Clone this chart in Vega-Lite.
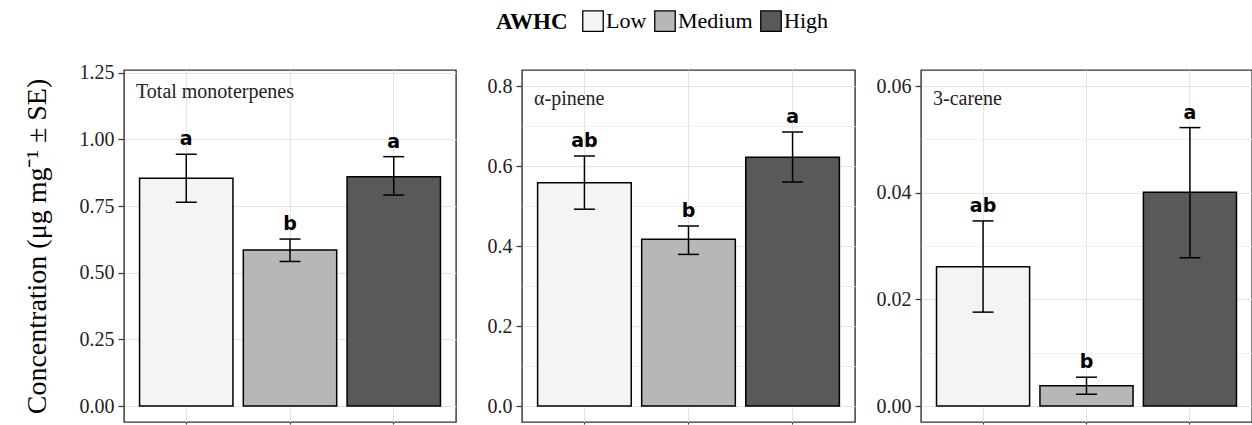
{
  "$schema": "https://vega.github.io/schema/vega-lite/v6.json",
  "padding": {"left": 22, "top": 10, "right": 0, "bottom": 0},
  "background": "white",
  "data": {"values": [
    {"compound": "Total monoterpenes", "awhc": "Low", "mean": 0.854, "lower": 0.764, "upper": 0.944, "letter": "a"},
    {"compound": "Total monoterpenes", "awhc": "Medium", "mean": 0.585, "lower": 0.542, "upper": 0.626, "letter": "b"},
    {"compound": "Total monoterpenes", "awhc": "High", "mean": 0.860, "lower": 0.791, "upper": 0.935, "letter": "a"},
    {"compound": "α-pinene", "awhc": "Low", "mean": 0.558, "lower": 0.492, "upper": 0.625, "letter": "ab"},
    {"compound": "α-pinene", "awhc": "Medium", "mean": 0.417, "lower": 0.379, "upper": 0.450, "letter": "b"},
    {"compound": "α-pinene", "awhc": "High", "mean": 0.622, "lower": 0.560, "upper": 0.685, "letter": "a"},
    {"compound": "3-carene", "awhc": "Low", "mean": 0.0261, "lower": 0.0176, "upper": 0.0347, "letter": "ab"},
    {"compound": "3-carene", "awhc": "Medium", "mean": 0.0038, "lower": 0.0022, "upper": 0.0054, "letter": "b"},
    {"compound": "3-carene", "awhc": "High", "mean": 0.0401, "lower": 0.0278, "upper": 0.0522, "letter": "a"}
  ]},
  "config": {
    "view": {"stroke": "#333333", "strokeWidth": 1.4},
    "font": "Liberation Serif",
    "axis": {
      "labelFont": "Liberation Serif",
      "labelFontSize": 20,
      "labelColor": "#222222",
      "labelPadding": 4,
      "titleFont": "Liberation Serif",
      "titleFontWeight": "normal",
      "titleColor": "black",
      "domain": false,
      "tickColor": "#333333",
      "tickWidth": 1.2,
      "gridColor": "#e4e4e4",
      "gridWidth": 1
    },
    "title": {"font": "Liberation Serif", "fontSize": 20, "fontWeight": "normal", "color": "#222222", "anchor": "start", "frame": "group", "offset": -39, "dx": 12, "baseline": "alphabetic"}
  },
  "spacing": 13,
  "hconcat": [
    {
      "width": 332, "height": 352,
      "title": {"text": "Total monoterpenes"},
      "transform": [{"filter": "datum.compound === 'Total monoterpenes'"}],
      "encoding": {
        "x": {"field": "awhc", "type": "nominal", "sort": ["Low", "Medium", "High"], "scale": {"paddingInner": 0.1, "paddingOuter": 0.15},
          "axis": {"title": null, "labels": false, "ticks": true, "tickSize": 2, "grid": true, "bandPosition": 0.5}}
      },
      "layer": [
        {"mark": {"type": "bar", "stroke": "black", "strokeWidth": 1.5},
         "encoding": {
           "y": {"field": "mean", "type": "quantitative", "title": "Concentration (μg mg⁻¹ ± SE)", "scale": {"domain": [-0.06, 1.26], "nice": false, "zero": false},
             "axis": {"title": "Concentration (μg mg⁻¹ ± SE)", "titleFontSize": 28, "titlePadding": 22, "minExtent": 51, "maxExtent": 51,
               "values": [0, 0.125, 0.25, 0.375, 0.5, 0.625, 0.75, 0.875, 1, 1.125, 1.25], "tickSize": 6,
               "labelExpr": "abs(datum.value*4 - round(datum.value*4)) < 1e-6 ? format(datum.value, '.2f') : ''",
               "tickOpacity": {"condition": {"test": "abs(datum.value*4 - round(datum.value*4)) < 1e-6", "value": 1}, "value": 0},
               "gridColor": {"condition": {"test": "abs(datum.value*4 - round(datum.value*4)) < 1e-6", "value": "#e4e4e4"}, "value": "#efefef"}}},
           "y2": {"datum": 0},
           "color": {"field": "awhc", "type": "nominal", "sort": ["Low", "Medium", "High"],
             "scale": {"domain": ["Low", "Medium", "High"], "range": ["#f4f4f4", "#b7b7b7", "#595959"]},
             "legend": {"orient": "none", "legendX": 372, "legendY": -60, "direction": "horizontal", "title": "AWHC", "titleOrient": "left",
               "titleFont": "Liberation Serif", "titleFontSize": 23, "titleFontWeight": "bold", "titleColor": "black", "titlePadding": 14,
               "labelFont": "Liberation Serif", "labelFontSize": 22, "labelColor": "black", "labelOffset": 2, "columnPadding": 5,
               "symbolType": "square", "symbolSize": 420, "symbolStrokeColor": "#222222", "symbolStrokeWidth": 1.3, "symbolOpacity": 1}}
         }},
        {"mark": {"type": "rule", "strokeWidth": 1.5, "color": "black"},
         "encoding": {"y": {"field": "lower", "type": "quantitative", "title": "Concentration (μg mg⁻¹ ± SE)"}, "y2": {"field": "upper"}}},
        {"mark": {"type": "tick", "size": 21, "thickness": 1.5, "color": "black", "opacity": 1},
         "encoding": {"y": {"field": "lower", "type": "quantitative", "title": "Concentration (μg mg⁻¹ ± SE)"}}},
        {"mark": {"type": "tick", "size": 21, "thickness": 1.5, "color": "black", "opacity": 1},
         "encoding": {"y": {"field": "upper", "type": "quantitative", "title": "Concentration (μg mg⁻¹ ± SE)"}}},
        {"mark": {"type": "text", "font": "DejaVu Sans", "fontWeight": "bold", "fontSize": 19, "dy": -9, "baseline": "alphabetic", "color": "black"},
         "encoding": {"y": {"field": "upper", "type": "quantitative", "title": "Concentration (μg mg⁻¹ ± SE)"}, "text": {"field": "letter"}}}
      ]
    },
    {
      "width": 333, "height": 352,
      "title": {"text": "α-pinene"},
      "transform": [{"filter": "datum.compound === 'α-pinene'"}],
      "encoding": {
        "x": {"field": "awhc", "type": "nominal", "sort": ["Low", "Medium", "High"], "scale": {"paddingInner": 0.1, "paddingOuter": 0.15},
          "axis": {"title": null, "labels": false, "ticks": true, "tickSize": 2, "grid": true, "bandPosition": 0.5}}
      },
      "layer": [
        {"mark": {"type": "bar", "stroke": "black", "strokeWidth": 1.5},
         "encoding": {
           "y": {"field": "mean", "type": "quantitative", "scale": {"domain": [-0.04, 0.84], "nice": false, "zero": false},
             "axis": {"title": null, "minExtent": 51, "maxExtent": 51,
               "values": [0, 0.1, 0.2, 0.3, 0.4, 0.5, 0.6, 0.7, 0.8], "tickSize": 6,
               "labelExpr": "abs(datum.value*5 - round(datum.value*5)) < 1e-6 ? format(datum.value, '.1f') : ''",
               "tickOpacity": {"condition": {"test": "abs(datum.value*5 - round(datum.value*5)) < 1e-6", "value": 1}, "value": 0},
               "gridColor": {"condition": {"test": "abs(datum.value*5 - round(datum.value*5)) < 1e-6", "value": "#e4e4e4"}, "value": "#efefef"}}},
           "y2": {"datum": 0},
           "color": {"field": "awhc", "type": "nominal", "sort": ["Low", "Medium", "High"]}
         }},
        {"mark": {"type": "rule", "strokeWidth": 1.5, "color": "black"},
         "encoding": {"y": {"field": "lower", "type": "quantitative", "title": null}, "y2": {"field": "upper"}}},
        {"mark": {"type": "tick", "size": 21, "thickness": 1.5, "color": "black", "opacity": 1},
         "encoding": {"y": {"field": "lower", "type": "quantitative", "title": null}}},
        {"mark": {"type": "tick", "size": 21, "thickness": 1.5, "color": "black", "opacity": 1},
         "encoding": {"y": {"field": "upper", "type": "quantitative", "title": null}}},
        {"mark": {"type": "text", "font": "DejaVu Sans", "fontWeight": "bold", "fontSize": 19, "dy": -9, "baseline": "alphabetic", "color": "black"},
         "encoding": {"y": {"field": "upper", "type": "quantitative", "title": null}, "text": {"field": "letter"}}}
      ]
    },
    {
      "width": 331, "height": 352,
      "title": {"text": "3-carene"},
      "transform": [{"filter": "datum.compound === '3-carene'"}],
      "encoding": {
        "x": {"field": "awhc", "type": "nominal", "sort": ["Low", "Medium", "High"], "scale": {"paddingInner": 0.1, "paddingOuter": 0.15},
          "axis": {"title": null, "labels": false, "ticks": true, "tickSize": 2, "grid": true, "bandPosition": 0.5}}
      },
      "layer": [
        {"mark": {"type": "bar", "stroke": "black", "strokeWidth": 1.5},
         "encoding": {
           "y": {"field": "mean", "type": "quantitative", "scale": {"domain": [-0.003, 0.063], "nice": false, "zero": false},
             "axis": {"title": null, "minExtent": 51, "maxExtent": 51,
               "values": [0, 0.01, 0.02, 0.03, 0.04, 0.05, 0.06], "tickSize": 6,
               "labelExpr": "abs(datum.value*50 - round(datum.value*50)) < 1e-6 ? format(datum.value, '.2f') : ''",
               "tickOpacity": {"condition": {"test": "abs(datum.value*50 - round(datum.value*50)) < 1e-6", "value": 1}, "value": 0},
               "gridColor": {"condition": {"test": "abs(datum.value*50 - round(datum.value*50)) < 1e-6", "value": "#e4e4e4"}, "value": "#efefef"}}},
           "y2": {"datum": 0},
           "color": {"field": "awhc", "type": "nominal", "sort": ["Low", "Medium", "High"]}
         }},
        {"mark": {"type": "rule", "strokeWidth": 1.5, "color": "black"},
         "encoding": {"y": {"field": "lower", "type": "quantitative", "title": null}, "y2": {"field": "upper"}}},
        {"mark": {"type": "tick", "size": 21, "thickness": 1.5, "color": "black", "opacity": 1},
         "encoding": {"y": {"field": "lower", "type": "quantitative", "title": null}}},
        {"mark": {"type": "tick", "size": 21, "thickness": 1.5, "color": "black", "opacity": 1},
         "encoding": {"y": {"field": "upper", "type": "quantitative", "title": null}}},
        {"mark": {"type": "text", "font": "DejaVu Sans", "fontWeight": "bold", "fontSize": 19, "dy": -9, "baseline": "alphabetic", "color": "black"},
         "encoding": {"y": {"field": "upper", "type": "quantitative", "title": null}, "text": {"field": "letter"}}}
      ]
    }
  ]
}
